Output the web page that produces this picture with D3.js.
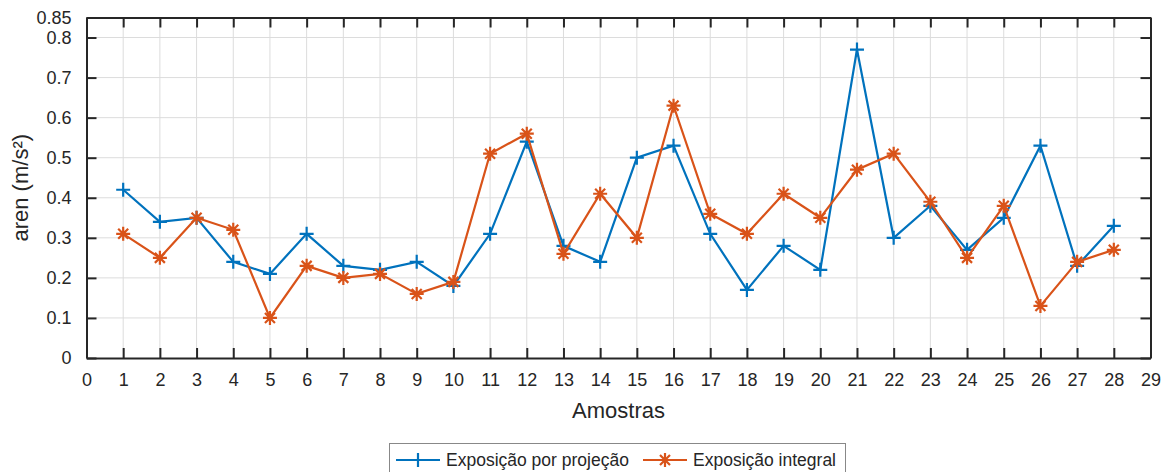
<!DOCTYPE html>
<html>
<head>
<meta charset="UTF-8">
<script src="https://d3js.org/d3.v7.min.js"></script>
<style>
  body { margin: 0; background: #fff; }
  text { font-family: "Liberation Sans", Arial, Helvetica, sans-serif; fill: #262626; }
  .grid line { stroke: #dcdcdc; stroke-width: 1; }
</style>
</head>
<body>
<svg id="chart" width="1167" height="472"></svg>
<script>
// data
var samples = d3.range(1, 29);
var projecao = [0.42, 0.34, 0.35, 0.24, 0.21, 0.31, 0.23, 0.22, 0.24, 0.18,
                0.31, 0.54, 0.28, 0.24, 0.50, 0.53, 0.31, 0.17, 0.28, 0.22,
                0.77, 0.30, 0.38, 0.27, 0.35, 0.53, 0.23, 0.33];
var integral = [0.31, 0.25, 0.35, 0.32, 0.10, 0.23, 0.20, 0.21, 0.16, 0.19,
                0.51, 0.56, 0.26, 0.41, 0.30, 0.63, 0.36, 0.31, 0.41, 0.35,
                0.47, 0.51, 0.39, 0.25, 0.38, 0.13, 0.24, 0.27];
var xTicks = d3.range(0, 30);
var yTicks = [0, 0.1, 0.2, 0.3, 0.4, 0.5, 0.6, 0.7, 0.8, 0.85];
var seriesNames = ["Exposição por projeção", "Exposição integral"];
var colors = ["#0072BD", "#D95319"];

var pLeft = 86.5, pRight = 1150.5, pTop = 17.5, pBottom = 358;
var svg = d3.select("#chart");

var x = d3.scaleLinear().domain([0, 29]).range([pLeft, pRight]);
var y = d3.scaleLinear().domain([0, 0.85]).range([pBottom, pTop]);

// grid
var grid = svg.append("g").attr("class", "grid");
grid.selectAll(".vx").data(xTicks.slice(1, -1)).enter().append("line")
    .attr("x1", d => x(d)).attr("x2", d => x(d))
    .attr("y1", pTop).attr("y2", pBottom);
grid.selectAll(".hy").data(yTicks.filter(d => d > 0 && d < 0.85)).enter().append("line")
    .attr("x1", pLeft).attr("x2", pRight)
    .attr("y1", d => y(d)).attr("y2", d => y(d));

// axes (ticks inward, box)
var tk = 10;
var fmt = d => d === 0 ? "0" : String(d);
svg.append("g").attr("transform", "translate(0," + pBottom + ")")
   .call(d3.axisBottom(x).tickValues(xTicks).tickSize(-tk).tickPadding(15).tickSizeOuter(0).tickFormat(d3.format("d")));
svg.append("g").attr("transform", "translate(0," + pTop + ")")
   .call(d3.axisTop(x).tickValues(xTicks).tickSize(-tk).tickSizeOuter(0).tickFormat(""));
svg.append("g").attr("transform", "translate(" + pLeft + ",0)")
   .call(d3.axisLeft(y).tickValues(yTicks).tickSize(-tk).tickPadding(15).tickSizeOuter(0).tickFormat(fmt));
svg.append("g").attr("transform", "translate(" + pRight + ",0)")
   .call(d3.axisRight(y).tickValues(yTicks).tickSize(-tk).tickSizeOuter(0).tickFormat(""));

svg.selectAll(".domain").attr("stroke", "#262626").attr("stroke-width", 2);
svg.selectAll(".tick line").attr("stroke", "#262626").attr("stroke-width", 2);
svg.selectAll(".tick text").attr("font-size", 18).attr("fill", "#262626")
   .attr("font-family", "'Liberation Sans', Arial, sans-serif");

// axis labels
svg.append("text").attr("x", (pLeft + pRight) / 2).attr("y", 418)
   .attr("text-anchor", "middle").attr("font-size", 22).text("Amostras");
svg.append("text").attr("transform", "translate(28," + ((pTop + pBottom) / 2) + ") rotate(-90)")
   .attr("text-anchor", "middle").attr("font-size", 22).text("aren (m/s²)");

// series
var line = d3.line().x((d, i) => x(samples[i])).y(d => y(d));
var plusPath = "M-7,0H7M0,-7V7";
var starPath = "M-7,0H7M0,-7V7M-5,-5L5,5M-5,5L5,-5";
[projecao, integral].forEach(function(vals, k) {
  svg.append("path").datum(vals).attr("d", line)
     .attr("fill", "none").attr("stroke", colors[k]).attr("stroke-width", 2.2);
  svg.append("g").selectAll("path").data(vals).enter().append("path")
     .attr("transform", (d, i) => "translate(" + x(samples[i]) + "," + y(d) + ")")
     .attr("d", k === 0 ? plusPath : starPath)
     .attr("fill", "none").attr("stroke", colors[k]).attr("stroke-width", 2.2);
});

// legend
var lg = svg.append("g");
lg.append("rect").attr("x", 389.5).attr("y", 443.5).attr("width", 456).attr("height", 34)
  .attr("fill", "#fff").attr("stroke", "#888").attr("stroke-width", 1);
var lx = [396, 643];
seriesNames.forEach(function(name, k) {
  var g = lg.append("g").attr("transform", "translate(" + lx[k] + ",460)");
  g.append("line").attr("x1", 0).attr("x2", 44).attr("stroke", colors[k]).attr("stroke-width", 2.2);
  g.append("path").attr("transform", "translate(22,0)").attr("d", k === 0 ? plusPath : starPath)
   .attr("fill", "none").attr("stroke", colors[k]).attr("stroke-width", 2.2);
  g.append("text").attr("x", 50).attr("y", 6).attr("font-size", 17.5).text(name);
});
</script>
</body>
</html>
